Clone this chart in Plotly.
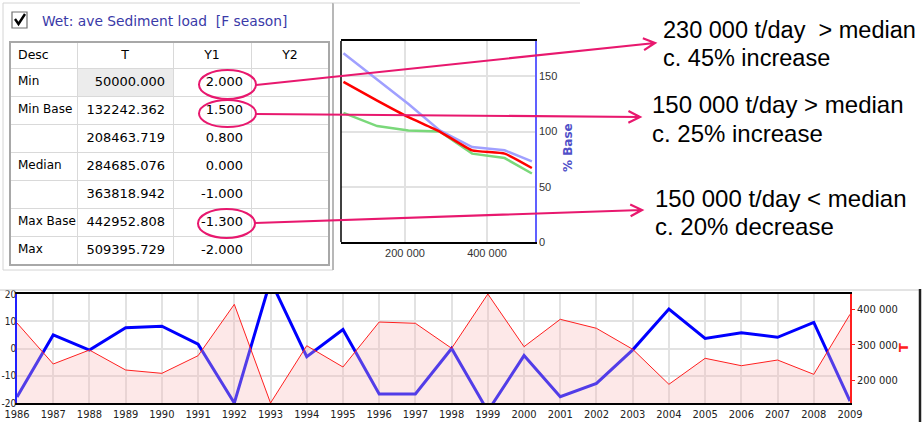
import math
import plotly.graph_objects as go

W, H = 923, 422


def px(x):
    return x / W


def py(y):
    return 1 - y / H


# ---------------- data ----------------
desc = ["Min", "Min\u00a0Base", "", "Median", "", "Max\u00a0Base", "Max"]
t_vals = [50000.000, 132242.362, 208463.719, 284685.076, 363818.942, 442952.808, 509395.729]
y1_vals = [2.000, 1.500, 0.800, 0.000, -1.000, -1.300, -2.000]
y2_vals = ["", "", "", "", "", "", ""]
header = ["Desc", "T", "Y1", "Y2"]

pct_blue = [171, 147, 125, 101, 86, 83, 73]
pct_red = [145, 128, 113, 100, 83, 80, 67]
pct_green = [117, 105, 101, 100, 80, 76, 62]

years = list(range(1986, 2010))
y_blue = [-17.8, 5.0, -0.6, 7.6, 8.2, 1.6, -20.0, 25.0, -3.0, 7.0, -16.7, -16.7,
          0.0, -23.0, -2.6, -17.7, -12.8, -0.5, 14.5, 3.7, 5.8, 4.1, 9.6, -19.3]
t_red = [360800, 246200, 285300, 229400, 220100, 269400, 413100, 137100, 297300,
         237800, 363600, 360000, 290100, 442000, 294600, 371200, 346000, 287400,
         189400, 262100, 241400, 257300, 217300, 385200]
left_ticks = [-20, -10, 0, 10, 20]
left_tick_text = ["-20", "-10", "0", "10", "20"]

title_text = "Wet: ave Sediment load\u00a0 [F season]"
notes = [
    ("230 000 t/day\u00a0 &gt; median", "c. 45% increase"),
    ("150 000 t/day &gt; median", "c. 25% increase"),
    ("150 000 t/day &lt; median", "c. 20% decrease"),
]

PINK = "#e8186e"
UI = "DejaVu Sans"
NARROW = "Liberation Sans Narrow, DejaVu Sans Condensed, sans-serif"

fig = go.Figure()

# ---------------- table ----------------
fig.add_trace(go.Table(
    domain=dict(x=[px(10), px(329)], y=[py(266), py(42)]),
    columnwidth=[67, 96, 78, 78],
    header=dict(values=header, align=["left", "center", "center", "center"],
                height=26, fill_color="white",
                line=dict(color="#d9d9d9", width=1),
                font=dict(family=UI, size=12.5, color="black")),
    cells=dict(values=[desc, [f"{v:.3f}" for v in t_vals],
                       [f"{v:.3f}" for v in y1_vals], y2_vals],
               align=["left", "right", "right", "right"],
               height=28,
               fill_color=[["white"] * 7, ["#ececec"] + ["white"] * 6,
                           ["white"] * 7, ["white"] * 7],
               line=dict(color="#d9d9d9", width=1),
               font=dict(family=UI, size=[12, 13, 13, 13], color="black")),
))

# ---------------- small % Base chart ----------------
fig.add_trace(go.Scatter(x=t_vals, y=pct_green, mode="lines",
                         line=dict(color="#7ad87a", width=2.5),
                         xaxis="x", yaxis="y", showlegend=False))
fig.add_trace(go.Scatter(x=t_vals, y=pct_blue, mode="lines",
                         line=dict(color="#a0a0ff", width=2.5),
                         xaxis="x", yaxis="y", showlegend=False))
fig.add_trace(go.Scatter(x=t_vals, y=pct_red, mode="lines",
                         line=dict(color="#ff0000", width=2.5, shape="spline", smoothing=0.4),
                         xaxis="x", yaxis="y", showlegend=False))

# ---------------- bottom time series ----------------
fig.add_trace(go.Scatter(x=years, y=y_blue, mode="lines",
                         line=dict(color="#0000ff", width=3),
                         xaxis="x2", yaxis="y2", showlegend=False))
fig.add_trace(go.Scatter(x=years, y=t_red, mode="lines", fill="tozeroy",
                         fillcolor="rgba(250,185,185,0.33)",
                         line=dict(color="#ff2020", width=1),
                         xaxis="x2", yaxis="y3", showlegend=False))

tick_font = dict(family="Liberation Sans", size=11, color="#333")
btick_font = dict(family=NARROW, size=11, color="#222")
ltick_font = dict(family=NARROW, size=10, color="#222")

fig.update_layout(
    width=W, height=H, autosize=False,
    margin=dict(l=0, r=0, t=0, b=0, autoexpand=False),
    paper_bgcolor="white", plot_bgcolor="white",
    separators=". ",
    xaxis=dict(domain=[px(341), px(535)], anchor="y", automargin=False,
               range=[44000, 517000], tickvals=[200000, 400000], tickformat=",d",
               showgrid=True, gridcolor="#e2e2e2", gridwidth=1.5,
               showline=True, mirror=True, linecolor="black", linewidth=1.5,
               zeroline=False, ticks="", tickfont=tick_font),
    yaxis=dict(domain=[py(242), py(41)], anchor="x", side="right", automargin=False,
               range=[0, 182], tickvals=[0, 50, 100, 150],
               showgrid=True, gridcolor="#e2e2e2", gridwidth=1.5,
               showline=True, linecolor="#6060ff", linewidth=1.5,
               zeroline=False, ticks="", tickfont=tick_font),
    xaxis2=dict(domain=[px(17), px(850)], anchor="y2", automargin=False,
                range=[1986, 2009], tickvals=years,
                showgrid=True, gridcolor="#e2e2e2", gridwidth=1.5,
                showline=True, mirror=True, linecolor="black", linewidth=2,
                zeroline=False, ticks="", tickfont=btick_font),
    yaxis2=dict(domain=[py(403), py(294)], anchor="x2", automargin=False,
                range=[-20, 20], tickvals=left_ticks, ticktext=left_tick_text,
                showgrid=True, gridcolor="#e2e2e2", gridwidth=1.5,
                showline=True, linecolor="#2020ff", linewidth=1.5,
                zeroline=False, ticks="", tickfont=ltick_font,
                ticklabelstandoff=-3),
    yaxis3=dict(overlaying="y2", anchor="x2", side="right", automargin=False,
                range=[min(t_red), max(t_red)], tickvals=[200000, 300000, 400000],
                tickformat=",d", showgrid=False,
                showline=True, linecolor="#ff2020", linewidth=1.5,
                zeroline=False, ticks="outside", ticklen=3, tickcolor="#ff2020",
                tickfont=btick_font),
)

shapes = []
# panel frames
shapes.append(dict(type="rect", xref="paper", yref="paper",
                   x0=px(3), x1=px(333), y0=py(270), y1=py(3),
                   line=dict(color="#d4d4d4", width=1)))
shapes.append(dict(type="line", xref="paper", yref="paper",
                   x0=px(333), x1=px(333), y0=py(270), y1=py(3),
                   line=dict(color="#b8b8b8", width=2)))
shapes.append(dict(type="line", xref="paper", yref="paper",
                   x0=px(333), x1=px(580), y0=py(3), y1=py(3),
                   line=dict(color="#d4d4d4", width=1)))
# table outer border
shapes.append(dict(type="rect", xref="paper", yref="paper",
                   x0=px(10), x1=px(329), y0=py(265), y1=py(42),
                   line=dict(color="#a8a8a8", width=2)))
# checkbox
shapes.append(dict(type="rect", xref="paper", yref="paper",
                   x0=px(12), x1=px(27), y0=py(28), y1=py(12),
                   line=dict(color="#707070", width=1.2), fillcolor="white"))
shapes.append(dict(type="path", xref="paper", yref="paper",
                   path=f"M {px(15)} {py(19)} L {px(18.5)} {py(24)} L {px(25)} {py(14)}",
                   line=dict(color="black", width=2.4)))
# small chart left border
shapes.append(dict(type="line", xref="x domain", yref="y domain",
                   x0=0, x1=0, y0=0, y1=1, line=dict(color="black", width=1.5)))
# bottom panel frame
shapes.append(dict(type="line", xref="paper", yref="paper",
                   x0=0, x1=px(920), y0=py(290), y1=py(290),
                   line=dict(color="#c8c8c8", width=1)))
shapes.append(dict(type="line", xref="paper", yref="paper",
                   x0=px(920), x1=px(920), y0=0, y1=py(289),
                   line=dict(color="#202020", width=2.5)))

# ellipses
for (x0, x1, y0, y1) in [(199, 256, 70, 99), (199, 256, 100, 127), (198, 255, 209, 238)]:
    shapes.append(dict(type="circle", xref="paper", yref="paper",
                       x0=px(x0), x1=px(x1), y0=py(y1), y1=py(y0),
                       line=dict(color=PINK, width=2)))

# arrows: tail -> head (pixel positions)
arrows = [((256, 85), (655, 43)), ((256, 114), (640, 117)), ((255, 223), (642, 210))]
for (tx, ty), (hx, hy) in arrows:
    ang = math.atan2(hy - ty, hx - tx)
    L, a = 13, math.radians(27)
    p1 = (hx - L * math.cos(ang - a), hy - L * math.sin(ang - a))
    p2 = (hx - L * math.cos(ang + a), hy - L * math.sin(ang + a))
    path = (f"M {px(tx)} {py(ty)} L {px(hx)} {py(hy)} "
            f"M {px(p1[0])} {py(p1[1])} L {px(hx)} {py(hy)} L {px(p2[0])} {py(p2[1])}")
    shapes.append(dict(type="path", xref="paper", yref="paper", path=path,
                       line=dict(color=PINK, width=2.2)))

fig.update_layout(shapes=shapes)

annots = [dict(text=title_text, x=px(40), y=py(21), xref="paper", yref="paper",
               xanchor="left", yanchor="middle", showarrow=False,
               font=dict(family=UI, size=13.8, color="#3a3aa8"))]
# axis titles
annots.append(dict(text="<b>% Base</b>", x=px(568), y=py(148), xref="paper", yref="paper",
                   textangle=-90, showarrow=False, xanchor="center", yanchor="middle",
                   font=dict(family="DejaVu Sans", size=12, color="#5050c8")))
annots.append(dict(text="<b>T</b>", x=px(903), y=py(348), xref="paper", yref="paper",
                   textangle=-90, showarrow=False, xanchor="center", yanchor="middle",
                   font=dict(family="DejaVu Sans", size=13, color="#ff2020")))
note_pos = [(661, 30, 58, 23.5), (650, 105, 133, 24), (653, 198, 227, 24)]
for (l1, l2), (x, y1, y2, fs) in zip(notes, note_pos):
    for txt, yy in ((l1, y1), (l2, y2)):
        annots.append(dict(text=txt, x=px(x), y=py(yy), xref="paper", yref="paper",
                           xanchor="left", yanchor="middle", showarrow=False,
                           font=dict(family="Liberation Sans", size=fs, color="black")))
fig.update_layout(annotations=annots)

fig.write_html("out.html", config={"displayModeBar": False},
               post_script="document.body.style.margin='0';")
